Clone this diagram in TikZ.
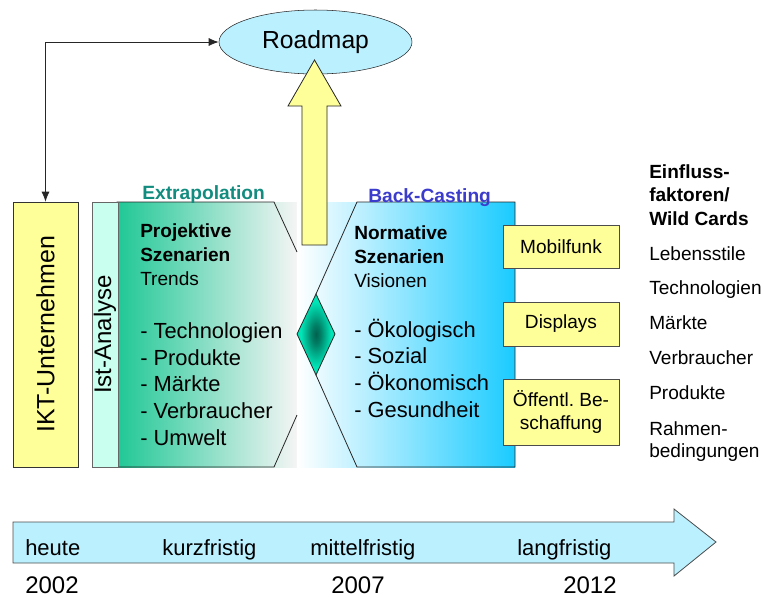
\documentclass[tikz,border=0pt]{standalone}
\usepackage{fontspec}
\setmainfont{Liberation Sans}
\usetikzlibrary{shapes.geometric, arrows.meta}

\definecolor{paleyellow}{HTML}{FFFF99}
\definecolor{palecyan}{HTML}{BBF0FF}
\definecolor{palemint}{HTML}{C8FFEE}
\definecolor{trendgreen}{HTML}{20C896}
\definecolor{visionblue}{HTML}{1ACBFF}
\definecolor{extracolor}{HTML}{138C80}
\definecolor{backcolor}{HTML}{3C3CCC}
\pgfdeclareradialshading{diamondglow}{\pgfpoint{0bp}{0bp}}{rgb(0bp)=(0,0.38,0.31); rgb(6bp)=(0,0.5,0.4); rgb(20bp)=(0,0.9,0.72); rgb(50bp)=(0,0.9,0.72)}

\begin{document}
\frenchspacing
\begin{tikzpicture}[x=0.75pt, y=-0.75pt,
    outline/.style={draw=black!85, line width=0.6pt},
    yellowbox/.style={draw=black!70, fill=paleyellow, inner sep=0pt, minimum width=87pt,
        align=center, font=\fontsize{14.3}{17.5}\selectfont},
    headtext/.style={anchor=base west, align=left, inner sep=0pt, font=\fontsize{14.3}{18}\selectfont},
    listtext/.style={anchor=base west, align=left, inner sep=0pt, font=\fontsize{16.4}{20}\selectfont},
    sidetext/.style={anchor=base west, align=left, inner sep=0pt, font=\fontsize{14.3}{16.5}\selectfont},
    timetext/.style={anchor=base west, inner sep=0pt, font=\fontsize{16.5}{20}\selectfont},
    yeartext/.style={anchor=base west, inner sep=0pt, font=\fontsize{18}{22}\selectfont}]

    \useasboundingbox (0,0) rectangle (766,597);

    % Scenario band
    \coordinate (TL) at (117,202);
    \coordinate (TR) at (515,202);
    \coordinate (BL) at (117,467);
    \coordinate (BR) at (515,467);

    % Shade the two halves
    \shade[left color=trendgreen, right color=black!4!white] (TL) rectangle (297,467);
    \shade[left color=white, right color=visionblue] (297,202) rectangle (BR);

    % Draw the edges
    \draw[outline] (297,252) -- (274,202) -- (TL) -- (BL) -- (274,467) -- (297,415);
    \draw[outline] (316,294) -- (357,202) -- (TR) -- (BR) -- (357,467) -- (316,375);

    % Diamond in the middle
    \shade[shading=diamondglow] (297,334) -- (316,294) -- (335,334) -- (316,375) -- cycle;
    \draw[outline] (297,334) -- (316,294) -- (335,334) -- (316,375) -- cycle;

    % Boxes on the left
    \node[rotate=90, draw=black!80, fill=paleyellow, minimum width=198.75pt, minimum height=48.75pt,
        inner sep=0pt, font=\fontsize{18.7}{22}\selectfont] (ikt) at (45.5,334.5) {IKT-Unternehmen};
    \node[rotate=90, draw=black!60, fill=palemint, minimum width=198.75pt, minimum height=19.5pt,
        inner sep=0pt, font=\fontsize{18}{22}\selectfont] (ist) at (105,334.5) {Ist-Analyse};

    % Roadmap and the block arrow up to it
    \node[ellipse, draw=black!85, fill=palecyan, minimum width=144.75pt, minimum height=48pt,
        inner sep=0pt, font=\fontsize{18.5}{22}\selectfont] (roadmap) at (315.5,42) {Roadmap};
    \draw[outline, fill=paleyellow] (302,245) -- (302,106) -- (288,106) -- (314.5,60)
        -- (341,106) -- (327,106) -- (327,245) -- cycle;
    \draw[black!85, line width=0.6pt, {Latex[length=7.5pt,width=6pt]}-{Latex[length=7.5pt,width=6pt]}]
        (ikt.east) |- (roadmap.west);

    % Titles over the band
    \node[anchor=base west, inner sep=0pt, text=extracolor, font=\bfseries\fontsize{14.4}{17}\selectfont]
        (extra) at (142,199) {Extrapolation};
    \node[anchor=base west, inner sep=0pt, text=backcolor, font=\bfseries\fontsize{14.4}{17}\selectfont]
        (back) at (368,202) {Back-Casting};

    % Texts in the band (base = last line)
    \node[headtext] (projhead) at (140,285) {\textbf{Projektive}\\\textbf{Szenarien}\\Trends};
    \node[listtext] (projlist) at (140,445)
        {- Technologien\\- Produkte\\- Märkte\\- Verbraucher\\- Umwelt};
    \node[headtext] (normhead) at (354,287) {\textbf{Normative}\\\textbf{Szenarien}\\Visionen};
    \node[listtext] (normlist) at (354,417)
        {- Ökologisch\\- Sozial\\- Ökonomisch\\- Gesundheit};

    % Example fields
    \node[yellowbox, minimum height=32.25pt] (mobil) at (561,246.5) {Mobilfunk};
    \node[yellowbox, minimum height=33pt] (displays) at (561,324) {Displays};
    \node[yellowbox, minimum height=49.5pt] (beschaffung) at (561,412) {Öffentl. Be-\\schaffung};

    % Influence factors
    \node[sidetext, font=\bfseries\fontsize{14.3}{17.6}\selectfont] (einfluss) at (649,225)
        {Einfluss-\\faktoren/\\Wild Cards};
    \foreach \factor/\y [count=\i] in {Lebensstile/260, Technologien/294, Märkte/329,
        Verbraucher/364, Produkte/399, {Rahmen-\\bedingungen}/457}
        \node[sidetext] (factor\i) at (649,\y) {\factor};

    % Time line
    \draw[draw=black!70, line width=0.6pt, fill=palecyan] (13,522) -- (674,522) -- (674,509)
        -- (716,542) -- (674,576) -- (674,563) -- (13,563) -- cycle;
    \node[timetext] (heute) at (25,555) {heute};
    \node[timetext] (kurz) at (162,555) {kurzfristig};
    \node[timetext] (mittel) at (310,555) {mittelfristig};
    \node[timetext] (lang) at (517,555) {langfristig};
    \node[yeartext] (y2002) at (25,593) {2002};
    \node[yeartext] (y2007) at (331,593) {2007};
    \node[yeartext] (y2012) at (563,593) {2012};
\end{tikzpicture}
\end{document}
